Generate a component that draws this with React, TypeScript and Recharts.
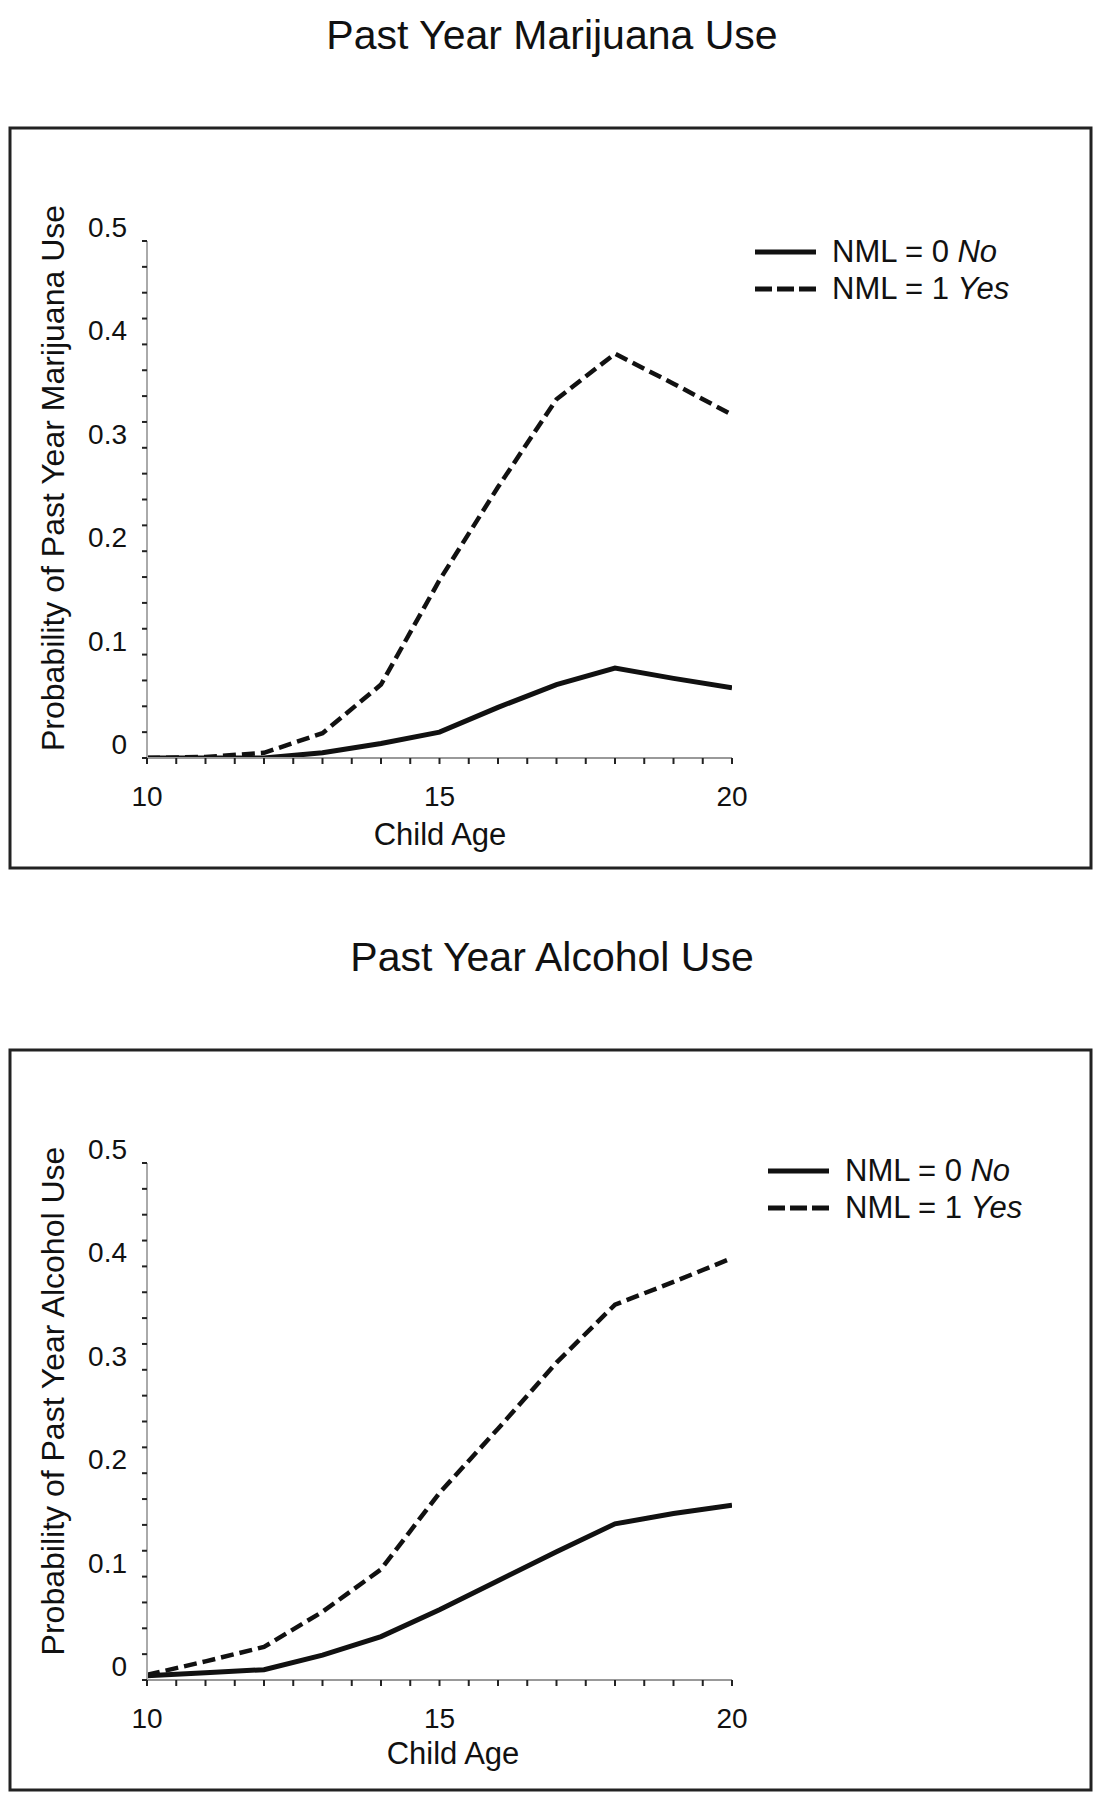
import React from 'react';
import { LineChart, Line, XAxis, YAxis } from 'recharts';

const ages = [10, 11, 12, 13, 14, 15, 16, 17, 18, 19, 20];
const marijuanaNo = [0, 0, 0, 0.005, 0.014, 0.025, 0.049, 0.071, 0.087, 0.077, 0.068];
const marijuanaYes = [0, 0.001, 0.005, 0.024, 0.071, 0.172, 0.262, 0.347, 0.391, 0.362, 0.332];
const alcoholNo = [0.004, 0.007, 0.01, 0.024, 0.042, 0.068, 0.096, 0.124, 0.151, 0.161, 0.169];
const alcoholYes = [0.005, 0.018, 0.032, 0.066, 0.107, 0.181, 0.243, 0.307, 0.363, 0.385, 0.408];

const xTicks = [10, 10.5, 11, 11.5, 12, 12.5, 13, 13.5, 14, 14.5, 15, 15.5, 16, 16.5, 17, 17.5, 18, 18.5, 19, 19.5, 20];
const xLabelTicks = [10, 15, 20];
const yTicks = [0, 0.025, 0.05, 0.075, 0.1, 0.125, 0.15, 0.175, 0.2, 0.225, 0.25, 0.275, 0.3, 0.325, 0.35, 0.375, 0.4, 0.425, 0.45, 0.475, 0.5];
const yLabelTicks = [0, 0.1, 0.2, 0.3, 0.4, 0.5];
const seriesNames = ['NML = 0', 'NML = 1'];
const seriesWords = ['No', 'Yes'];

const FONT = '"Liberation Sans", Arial, Helvetica, sans-serif';
const INK = '#111';

const XTick = (props: any) => {
  const { x, y, payload } = props;
  if (!xLabelTicks.some((t) => Math.abs(t - payload.value) < 1e-6)) return <g />;
  return (
    <text x={x} y={y} dy={40} textAnchor="middle" fontFamily={FONT} fontSize={28} fill={INK}>
      {payload.value}
    </text>
  );
};

const YTick = (props: any) => {
  const { x, y, payload } = props;
  if (!yLabelTicks.some((t) => Math.abs(t - payload.value) < 1e-6)) return <g />;
  const label = payload.value === 0 ? '0' : payload.value.toFixed(1);
  return (
    <text x={x} y={y} dx={-13} dy={-4} textAnchor="end" fontFamily={FONT} fontSize={28} fill={INK}>
      {label}
    </text>
  );
};

function LegendBox(props: { left: number; top: number }) {
  const { left, top } = props;
  return (
    <g transform={`translate(${left}, ${top})`}>
      {seriesNames.map((name, i) => {
        const cy = 20 + i * 37;
        return (
          <g key={name}>
            <line x1={5} x2={66} y1={cy} y2={cy} stroke={INK} strokeWidth={5}
              strokeDasharray={i === 1 ? '17 5' : undefined} />
            <text x={82} y={cy + 10} fontFamily={FONT} fontSize={31} fill={INK}>
              {name + ' '}
              <tspan fontStyle="italic">{seriesWords[i]}</tspan>
            </text>
          </g>
        );
      })}
    </g>
  );
}

function Panel(props: {
  top: number; title: string; yLabel: string; no: number[]; yes: number[];
  legendLeft: number; legendTop: number; xLabelX: number; xLabelY: number; yLabelY: number;
}) {
  const { top, title, yLabel, no, yes, legendLeft, legendTop, xLabelX, xLabelY, yLabelY } = props;
  const data = ages.map((a, i) => ({ age: a, no: no[i], yes: yes[i] }));
  return (
    <div style={{ position: 'absolute', left: 0, top, width: 1104, height: 900 }}>
      <svg width={1104} height={900} style={{ position: 'absolute', left: 0, top: 0 }}>
        <text x={552} y={49} textAnchor="middle" fontFamily={FONT} fontSize={41} fill={INK}>{title}</text>
        <rect x={10} y={128} width={1081} height={740} fill="none" stroke="#222" strokeWidth={3} />
        <text transform={`translate(64, ${yLabelY}) rotate(-90)`} textAnchor="middle" fontFamily={FONT} fontSize={32} fill={INK}>{yLabel}</text>
        <text x={xLabelX} y={xLabelY} textAnchor="middle" fontFamily={FONT} fontSize={31} fill={INK}>Child Age</text>
        <LegendBox left={legendLeft} top={legendTop} />
      </svg>
      <div style={{ position: 'absolute', left: 0, top: 0 }}>
        <LineChart width={1104} height={900} data={data} margin={{ top: 241, right: 372, bottom: 112, left: 87 }}>
          <XAxis type="number" dataKey="age" domain={[10, 20]} ticks={xTicks} interval={0} height={30}
            tickSize={6} tickLine={{ stroke: '#222', strokeWidth: 2 }} axisLine={{ stroke: '#999', strokeWidth: 2 }}
            tick={<XTick />} allowDataOverflow />
          <YAxis type="number" domain={[0, 0.5]} ticks={yTicks} interval={0} width={60}
            tickSize={5} tickLine={{ stroke: '#222', strokeWidth: 2 }} axisLine={{ stroke: '#aaa', strokeWidth: 2 }}
            tick={<YTick />} allowDataOverflow />
          <Line type="linear" dataKey="no" name={seriesNames[0]} stroke={INK} strokeWidth={5} dot={false} isAnimationActive={false} />
          <Line type="linear" dataKey="yes" name={seriesNames[1]} stroke={INK} strokeWidth={4.5} strokeDasharray="13 6" dot={false} isAnimationActive={false} />
        </LineChart>
      </div>
    </div>
  );
}

export default function App() {
  return (
    <div style={{ position: 'absolute', left: 0, top: 0, width: 1104, height: 1800, background: '#fff', overflow: 'hidden' }}>
      <Panel top={0} title="Past Year Marijuana Use" yLabel="Probability of Past Year Marijuana Use"
        no={marijuanaNo} yes={marijuanaYes} legendLeft={750} legendTop={232} xLabelX={440} xLabelY={845} yLabelY={478} />
      <Panel top={922} title="Past Year Alcohol Use" yLabel="Probability of Past Year Alcohol Use"
        no={alcoholNo} yes={alcoholYes} legendLeft={763} legendTop={229} xLabelX={453} xLabelY={842} yLabelY={479} />
    </div>
  );
}
